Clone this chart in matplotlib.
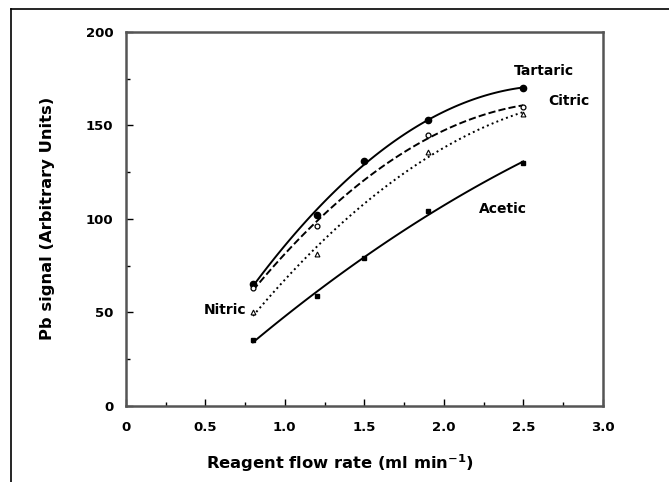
import numpy as np
import matplotlib
matplotlib.use('Agg')
import matplotlib.pyplot as plt
from matplotlib.lines import Line2D

# flow rate (ml/min) and Pb signal
x_tart=[0.8,1.2,1.5,1.9,2.5]
y_tart=[65,102,131,153,170]
x_citr=[0.8,1.2,1.9,2.5]
y_citr=[63,96,145,160]
x_nitr=[0.8,1.2,1.9,2.5]
y_nitr=[50,81,136,156]
x_acet=[0.8,1.2,1.5,1.9,2.5]
y_acet=[35,59,79,104,130]

plt.rcParams['font.family']='DejaVu Sans'
plt.rcParams['font.weight']='bold'

fig=plt.figure(figsize=[6.69,4.82],dpi=100)
ax=fig.add_axes([0.188,0.158,0.713,0.776])

def fitline(xs,ys,style):
	c=np.polyfit(xs,ys,2)
	xx=np.linspace(min(xs),max(xs),100)
	ax.plot(xx,np.polyval(c,xx),style,color='k',linewidth=1.4)

fitline(x_tart,y_tart,'-')
ax.plot(x_tart,y_tart,'o',color='k',markersize=4.5)
fitline(x_citr,y_citr,'--')
ax.plot(x_citr,y_citr,'o',color='k',mfc='white',markersize=3.5,mew=0.9)
fitline(x_nitr,y_nitr,':')
ax.plot(x_nitr,y_nitr,'^',color='k',mfc='white',markersize=3.5,mew=0.8)
fitline(x_acet,y_acet,'-')
ax.plot(x_acet,y_acet,'s',color='k',markersize=3)

ax.text(2.63,179,'Tartaric',ha='center',va='center',fontsize=10,fontweight='bold')
ax.text(2.66,163,'Citric',ha='left',va='center',fontsize=10,fontweight='bold')
ax.text(2.22,105,'Acetic',ha='left',va='center',fontsize=10,fontweight='bold')
ax.text(0.76,51,'Nitric',ha='right',va='center',fontsize=10,fontweight='bold')

ax.set_xlim(0,3.0)
ax.set_ylim(0,200)
ax.set_xticks([0,0.5,1.0,1.5,2.0,2.5,3.0])
ax.set_xticklabels(['0','0.5','1.0','1.5','2.0','2.5','3.0'])
ax.set_yticks([0,50,100,150,200])
ax.set_xticks(np.arange(0.25,3.0,0.5),minor=True)
ax.set_yticks([25,75,125,175],minor=True)
ax.tick_params(direction='in',length=5,width=1,labelsize=9.5,pad=11)
ax.tick_params(axis='y',pad=9)
ax.tick_params(which='minor',direction='in',length=3,width=1)
for s in ax.spines.values():
	s.set_linewidth(1.8)
	s.set_color('#555555')

ax.set_xlabel(r'Reagent flow rate (ml min$^{\mathbf{-1}}$)',fontsize=11.8,fontweight='bold')
ax.xaxis.set_label_coords(0.45,-0.125)
ax.set_ylabel('Pb signal (Arbitrary Units)',fontsize=11.8,fontweight='bold',labelpad=22)

# outer frame (top and left edges visible)
fig.add_artist(Line2D([11/669,1.0],[1-9/482,1-9/482],color='k',linewidth=1.2,transform=fig.transFigure))
fig.add_artist(Line2D([11/669,11/669],[0,1-9/482],color='k',linewidth=1.2,transform=fig.transFigure))

plt.savefig('out.png',dpi=100,facecolor='w')
